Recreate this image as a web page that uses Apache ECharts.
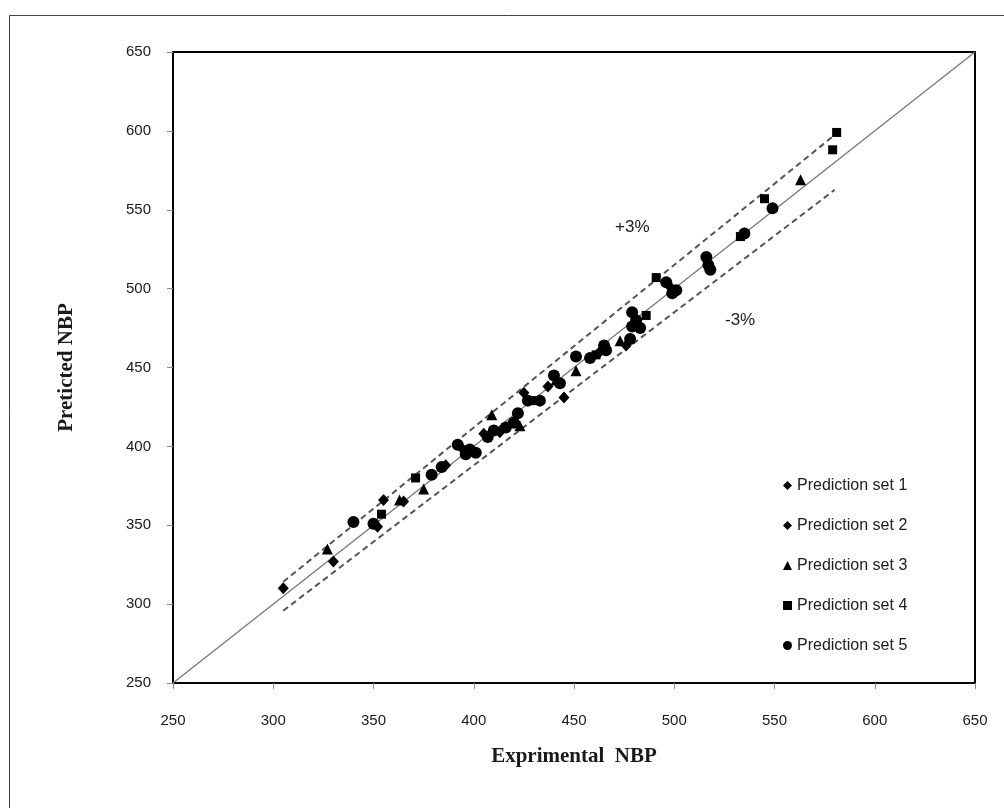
<!DOCTYPE html>
<html>
<head>
<meta charset="utf-8">
<script src="https://cdn.jsdelivr.net/npm/echarts@6/dist/echarts.min.js"></script>
<style>
  html, body { margin: 0; padding: 0; background: #fff; }
  #chart { width: 1004px; height: 808px; }
</style>
</head>
<body>
<div id="chart"></div>
<script>
// Experimental vs predicted NBP, five prediction sets
const set1 = [[305,310],[330,327],[355,366],[365,365],[394,399],[405,408],[425,434],[445,431]];
const set2 = [[352,349],[386,388],[413,409],[437,438],[463,460],[476,464],[498,501]];
const set3 = [[327,335],[363,366],[375,373],[409,420],[423,413],[441,442],[451,448],[473,467],[563,569]];
const set4 = [[354,357],[371,380],[430,429],[461,458],[486,483],[491,507],[533,533],[545,557],[579,588],[581,599]];
const set5 = [[340,352],[350,351],[379,382],[384,387],[392,401],[396,395],[398,398],[401,396],[407,406],
              [410,410],[416,412],[420,415],[422,421],[427,429],[433,429],[440,445],[443,440],[451,457],
              [458,456],[465,464],[466,461],[478,468],[479,476],[479,485],[481,480],[483,475],[496,504],
              [499,497],[501,499],[516,520],[517,515],[518,512],[535,535],[549,551]];

// Reference lines: y = x and the ±3% band
const idealLine = [[250,250],[650,650]];
const upperBand = [[305,314.15],[580,597.4]];
const lowerBand = [[305,295.85],[580,562.6]];

const axisTicks = [250,300,350,400,450,500,550,600,650];
const seriesNames = ['Prediction set 1','Prediction set 2','Prediction set 3','Prediction set 4','Prediction set 5'];

const labelFont = { fontFamily: 'Liberation Sans, Arial, sans-serif', fontSize: 15, color: '#1a1a1a' };
const titleFont = { fontFamily: 'Liberation Serif, Times New Roman, serif', fontSize: 21, fontWeight: 'bold', color: '#1a1a1a' };

const chart = echarts.init(document.getElementById('chart'));

function pointSeries(name, data, symbol, size) {
  return {
    name: name, type: 'scatter', data: data,
    symbol: symbol, symbolSize: size,
    itemStyle: { color: '#000', opacity: 1 }, z: 5
  };
}
function refLine(data, color, width, dashed) {
  return {
    type: 'line', data: data, symbol: 'none', silent: true,
    lineStyle: { color: color, width: width, type: dashed ? [6, 4] : 'solid' },
    z: 3
  };
}

chart.setOption({
  backgroundColor: '#fff',
  animation: false,
  grid: { left: 173, right: 29, top: 52, bottom: 125, show: true, borderColor: '#000', borderWidth: 2 },
  xAxis: {
    type: 'value', min: axisTicks[0], max: axisTicks[axisTicks.length - 1], interval: 50,
    name: 'Exprimental  NBP', nameLocation: 'middle', nameGap: 63, nameTextStyle: titleFont,
    axisLine: { show: true, onZero: false, lineStyle: { color: '#000', width: 2 } },
    axisTick: { show: true, length: 6, lineStyle: { color: '#888' } },
    axisLabel: Object.assign({ margin: 30 }, labelFont),
    splitLine: { show: false }
  },
  yAxis: {
    type: 'value', min: axisTicks[0], max: axisTicks[axisTicks.length - 1], interval: 50,
    name: 'Preticted NBP', nameLocation: 'middle', nameGap: 96, nameRotate: 90, nameTextStyle: titleFont,
    axisLine: { show: true, onZero: false, lineStyle: { color: '#000', width: 2 } },
    axisTick: { show: true, length: 6, lineStyle: { color: '#888' } },
    axisLabel: Object.assign({ margin: 22 }, labelFont),
    splitLine: { show: false }
  },
  legend: {
    orient: 'vertical', left: 778, top: 471,
    itemWidth: 9, itemHeight: 9, itemGap: 21,
    data: seriesNames,
    textStyle: { fontFamily: 'Liberation Sans, Arial, sans-serif', fontSize: 16, color: '#1a1a1a', lineHeight: 19 }
  },
  graphic: [
    { type: 'rect', shape: { x: 9.5, y: 15.5, width: 1100, height: 900 },
      style: { fill: 'none', stroke: '#444', lineWidth: 1 }, silent: true },
    { type: 'text', left: 615, top: 219,
      style: { text: '+3%', font: '17px "Liberation Sans", Arial, sans-serif', fill: '#1a1a1a' } },
    { type: 'text', left: 725, top: 312,
      style: { text: '-3%', font: '17px "Liberation Sans", Arial, sans-serif', fill: '#1a1a1a' } }
  ],
  series: [
    refLine(idealLine, '#777', 1.3, false),
    refLine(upperBand, '#555', 2, true),
    refLine(lowerBand, '#555', 2, true),
    pointSeries(seriesNames[0], set1, 'diamond', [11, 12]),
    pointSeries(seriesNames[1], set2, 'diamond', [11, 12]),
    pointSeries(seriesNames[2], set3, 'triangle', 11),
    pointSeries(seriesNames[3], set4, 'rect', 9),
    pointSeries(seriesNames[4], set5, 'circle', 12)
  ]
});
</script>
</body>
</html>
